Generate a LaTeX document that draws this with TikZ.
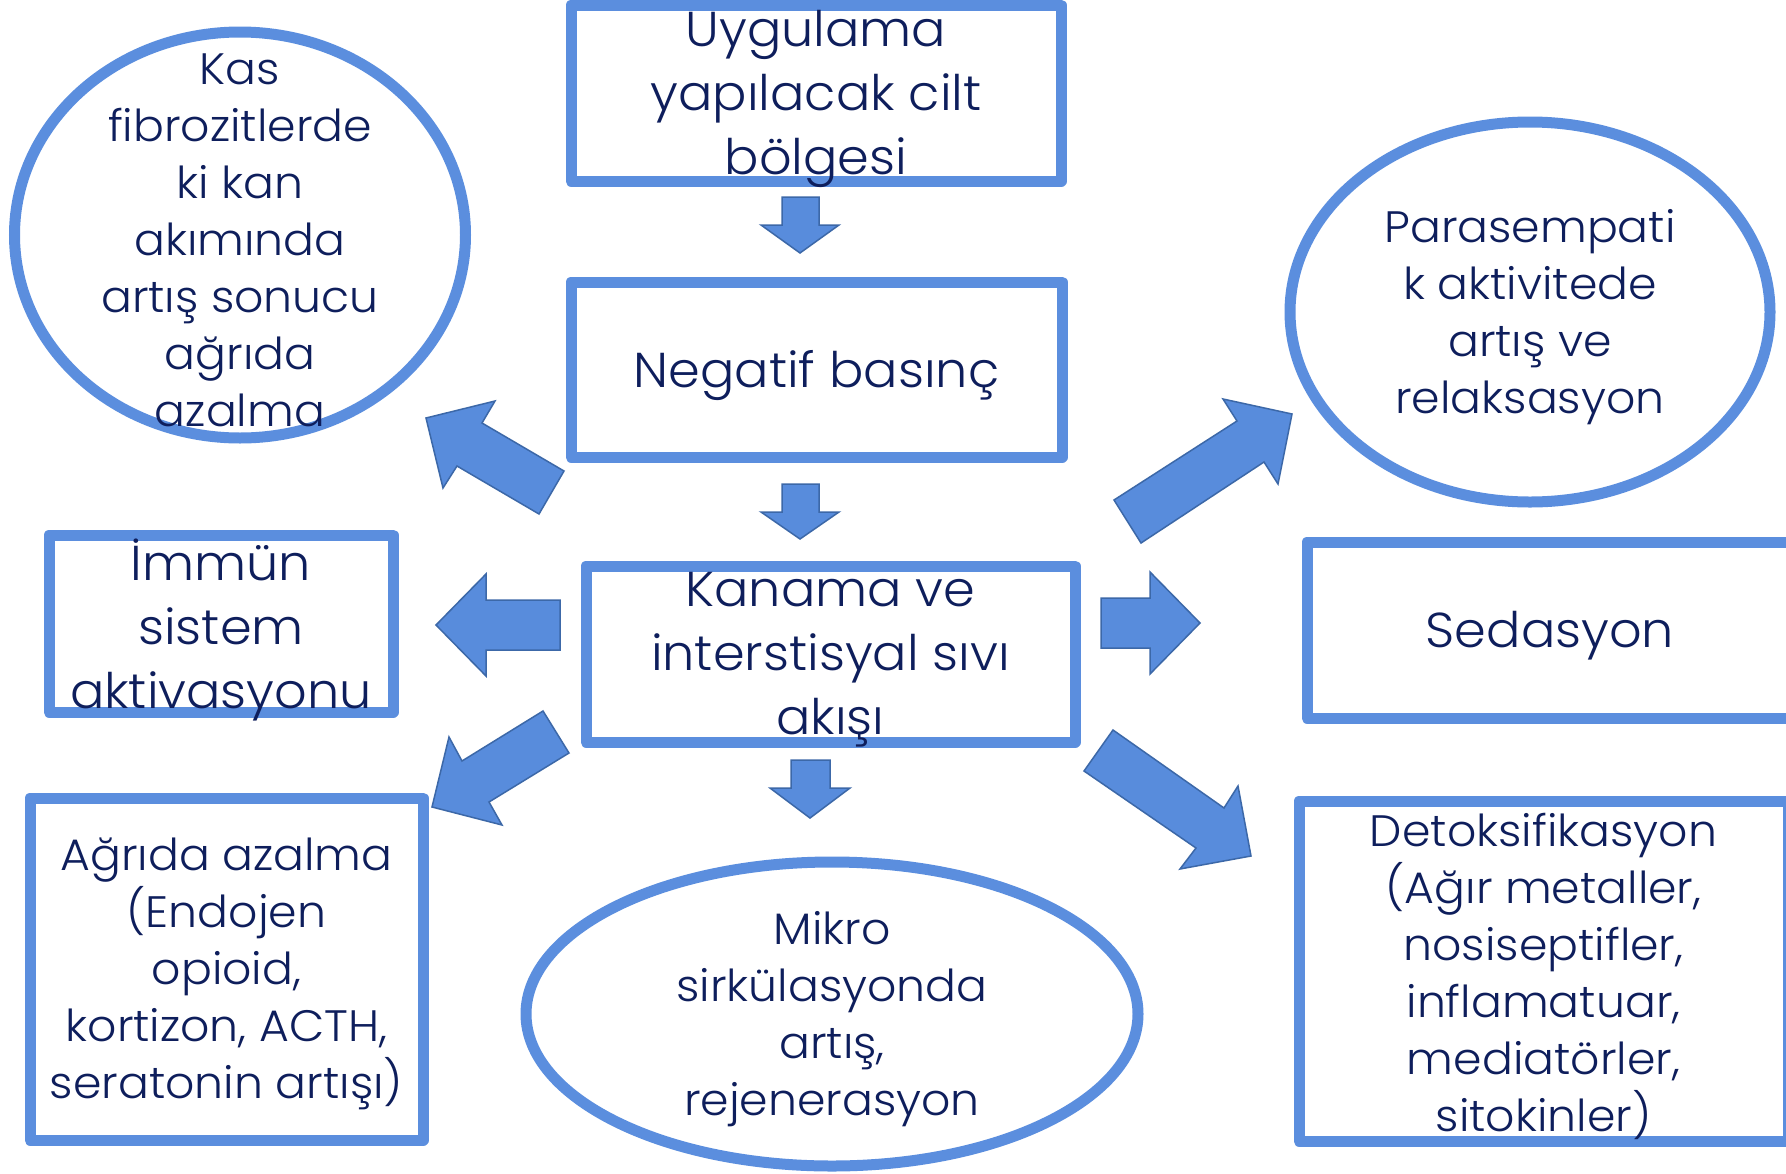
\documentclass[tikz,border=0pt]{standalone}
\usepackage{fontspec}
\setmainfont{Poppins}[UprightFont=* Light, FakeStretch=1.04]
\usetikzlibrary{shapes.geometric}
\definecolor{bordblue}{RGB}{91,142,222}
\definecolor{arrfill}{RGB}{88,140,220}
\definecolor{arrline}{RGB}{60,104,168}
\definecolor{navy}{RGB}{14,30,92}
\tikzset{
 rbox/.style={draw=bordblue, line width=11pt, inner sep=0pt, rectangle, line join=round},
 ebox/.style={draw=bordblue, line width=11pt, inner sep=0pt, ellipse},
 bigtxt/.style={text=navy, align=center, inner sep=0pt, yshift=-6pt, font=\fontsize{49}{64}\selectfont},
 smalltxt/.style={text=navy, align=center, inner sep=0pt, yshift=-5pt, font=\fontsize{44}{57}\selectfont},
 barrow/.style={fill=arrfill, draw=arrline, line width=1.5pt, line join=miter},
}
\begin{document}
\begin{tikzpicture}[x={(1pt,0)}, y={(0,-1pt)}]
\useasboundingbox (0,0) rectangle (1786,1173);
\clip (0,0) rectangle (1786,1173);
\fill[white] (0,0) rectangle (1786,1173);

% shapes
\node[rbox, minimum width=490pt, minimum height=176pt] (top) at (816,93) {};
\node[rbox, minimum width=491pt, minimum height=175pt] (neg) at (816.5,369.5) {};
\node[rbox, minimum width=489pt, minimum height=176pt] (kan) at (830.5,654) {};
\node[rbox, minimum width=344pt, minimum height=177pt] (imm) at (221,623.5) {};
\node[rbox, minimum width=486pt, minimum height=176pt] (sed) at (1550,630) {};
\node[rbox, minimum width=393pt, minimum height=342pt] (agr) at (226.5,969) {};
\node[rbox, minimum width=489pt, minimum height=340pt] (det) at (1543.5,971) {};
\node[ebox, minimum width=451pt, minimum height=406pt] (kas) at (240,235) {};
\node[ebox, minimum width=480pt, minimum height=380pt] (par) at (1530,312) {};
\node[ebox, minimum width=612pt, minimum height=304pt] (mik) at (832,1014) {};

% block arrows
\draw[barrow] (782,197) -- (819,197) -- (819,225) -- (839,225) -- (800,253) -- (761,225) -- (782,225) -- cycle;
\draw[barrow] (782,484) -- (819,484) -- (819,512) -- (839,512) -- (800,539) -- (761,512) -- (782,512) -- cycle;
\draw[barrow] (791,760) -- (830,760) -- (830,788) -- (850,788) -- (810,818) -- (770,788) -- (791,788) -- cycle;
\draw[barrow] (560,600) -- (486,600) -- (486,574) -- (436,625) -- (486,676) -- (486,650) -- (560,650) -- cycle;
\draw[barrow] (1101,598) -- (1150,598) -- (1150,572) -- (1200,623) -- (1150,674) -- (1150,648) -- (1101,648) -- cycle;
\draw[barrow] (564,471) -- (482,423) -- (495,401) -- (426,418) -- (443,488) -- (457,466) -- (539,514) -- cycle;
\draw[barrow] (1114,500) -- (1237,421) -- (1223,399) -- (1292,414) -- (1278,484) -- (1264,462) -- (1141,543) -- cycle;
\draw[barrow] (543,711) -- (462,761) -- (449,737) -- (432,807) -- (502,825) -- (489,802) -- (569,753) -- cycle;
\draw[barrow] (1113,730) -- (1224,808) -- (1238,786) -- (1251,856) -- (1180,869) -- (1196,848) -- (1084,771) -- cycle;

% texts
\node[bigtxt] (topt) at (top.center) {Uygulama\\yapılacak cilt\\bölgesi};
\node[bigtxt] (negt) at (neg.center) {Negatif basınç};
\node[bigtxt] (kant) at (kan.center) {Kanama ve\\interstisyal sıvı\\akışı};
\node[bigtxt] (immt) at (imm.center) {İmmün\\sistem\\aktivasyonu};
\node[bigtxt] (sedt) at (sed.center) {Sedasyon};
\node[smalltxt] (agrt) at (agr.center) {Ağrıda azalma\\(Endojen\\opioid,\\kortizon, ACTH,\\seratonin artışı)};
\node[smalltxt] (dett) at (det.center) {Detoksifikasyon\\(Ağır metaller,\\nosiseptifler,\\inflamatuar,\\mediatörler,\\sitokinler)};
\node[smalltxt] (kast) at (kas.center) {Kas\\fibrozitlerde\\ki kan\\akımında\\artış sonucu\\ağrıda\\azalma};
\node[smalltxt] (part) at (par.center) {Parasempati\\k aktivitede\\artış ve\\relaksasyon};
\node[smalltxt] (mikt) at (mik.center) {Mikro\\sirkülasyonda\\artış,\\rejenerasyon};
\end{tikzpicture}
\end{document}
